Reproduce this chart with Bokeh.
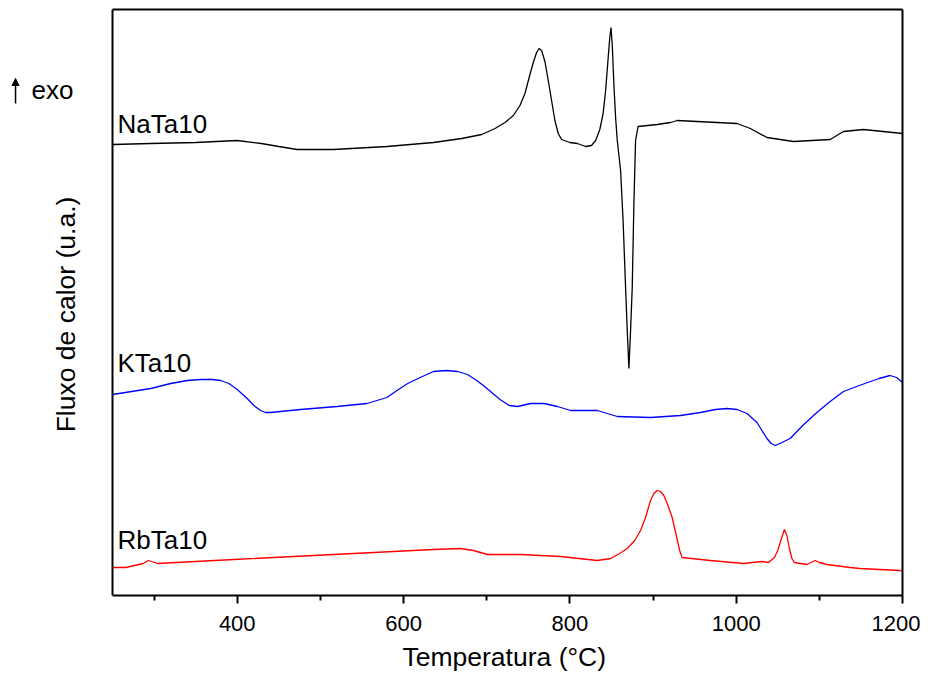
import math
from bokeh.plotting import figure
from bokeh.models import Range1d, FixedTicker, Label, Arrow, NormalHead, LinearAxis, Span, Title
from bokeh.embed import file_html
from bokeh.resources import INLINE

# ---- data (temperature in °C, heat flow in arbitrary units) ----
na_T = [250, 296, 350, 400, 429, 450, 472, 516, 580, 636, 670, 694, 710, 722, 732, 740,
        746, 751, 756, 760, 763, 766, 770, 774, 778, 782, 786, 790, 800, 809, 819, 826,
        831, 836, 840, 843, 846, 848, 849.5, 851, 853, 855, 857, 861, 864, 867, 869, 871,
        873, 875, 877, 879, 882, 905, 921, 929, 1001, 1017, 1037, 1069, 1113, 1129, 1153, 1200]
na_y = [451, 452, 453, 455, 452, 449, 446, 446, 449, 453, 457, 461, 467, 473, 480, 490,
        502, 518, 533, 543, 547, 545, 534, 515, 495, 475, 462, 456, 453, 452, 449, 450,
        455, 466, 482, 505, 537, 558, 568, 550, 510, 478, 455, 425, 375, 308, 265, 227,
        265, 308, 392, 455, 469, 471, 473, 475, 472, 467, 458, 454, 456, 464, 466, 462]

k_T = [250, 296, 320, 340, 356, 370, 380, 390, 400, 412, 420, 428, 434, 440, 476, 520,
       556, 580, 592, 605, 620, 636, 652, 665, 677, 688, 696, 706, 716, 727, 737, 753,
       769, 785, 801, 833, 857, 897, 933, 957, 975, 989, 1001, 1013, 1025, 1031, 1037, 1042,
       1047, 1055, 1065, 1080, 1097, 1113, 1129, 1145, 1158, 1172, 1185, 1193, 1200]
k_y = [201, 207, 212, 215, 216, 216, 215, 212, 206, 197, 190, 185, 183, 183, 186, 189,
       192, 198, 205, 212, 218, 224, 225, 224, 221, 215, 210, 203, 196, 190, 189, 192,
       192, 189, 185, 185, 179, 178, 180, 183, 186, 187, 186, 182, 173, 165, 157, 152,
       150, 153, 157, 170, 183, 194, 204, 209, 213, 217, 220, 218, 213]

rb_T = [250, 266, 287, 293, 297, 304, 396, 516, 636, 668, 684, 701, 741, 789, 833, 849,
        860, 869, 878, 885, 891, 897, 901, 905, 909, 913, 918, 923, 928, 932, 935, 969,
        1009, 1031, 1039, 1046, 1050, 1054, 1058, 1061, 1064, 1067, 1070, 1085, 1090, 1095,
        1100, 1109, 1137, 1149, 1197, 1200]
rb_y = [28, 28, 32, 35, 34, 32, 36, 41, 46, 47, 45, 41, 41, 39, 35, 37,
        42, 47, 55, 65, 78, 95, 102, 105, 104, 100, 90, 78, 60, 45, 38, 35,
        32, 34, 33, 38, 45, 56, 66, 60, 47, 37, 33, 31, 33, 35,
        33, 31, 28, 27, 25, 24]

series_names = ["NaTa10", "KTa10", "RbTa10"]
series_colors = ["black", "#0000ff", "#ff0000"]
label_y = [471.5, 232.5, 55.5]
major_ticks = [400, 600, 800, 1000, 1200]
minor_ticks = [300, 500, 700, 900, 1100]
T_MIN, T_MAX = 250, 1200

FONT = "Liberation Sans"

# frame spans from the canvas left edge so the margin texts can live inside it
FRAME_W, AXIS_PX = 902, 112
x_start = T_MIN - AXIS_PX * (T_MAX - T_MIN) / (FRAME_W - AXIS_PX)

p = figure(width=920, height=682, output_backend="svg", toolbar_location=None,
           x_range=Range1d(x_start, T_MAX), y_range=Range1d(0, 586),
           y_axis_location=None,
           min_border_left=0, min_border_right=18, min_border_top=9, min_border_bottom=87)
p.grid.visible = False
p.outline_line_color = None
p.background_fill_color = "white"
p.border_fill_color = "white"

for xs, ys, c in zip([na_T, k_T, rb_T], [na_y, k_y, rb_y], series_colors):
    p.line(xs, ys, line_color=c, line_width=1.3)

# bottom axis
xa = p.xaxis[0]
xa.bounds = (T_MIN, T_MAX)
xa.ticker = FixedTicker(ticks=major_ticks, minor_ticks=minor_ticks)
xa.axis_line_width = 2
xa.major_tick_out = 8
xa.major_tick_in = 0
xa.minor_tick_out = 5
xa.minor_tick_in = 0
xa.major_tick_line_width = 2
xa.minor_tick_line_width = 2
xa.major_label_text_font = FONT
xa.major_label_text_font_size = "22px"
xa.major_label_text_color = "black"
xa.major_label_standoff = 12

# x axis title, centred under the visible axis
p.add_layout(Title(text="Temperatura (°C)", align="left", offset=402, standoff=13,
                   text_font=FONT, text_font_size="26.5px", text_font_style="normal",
                   text_color="black"), "below")

# top and right frame lines
top = LinearAxis(ticker=FixedTicker(ticks=[]), bounds=(T_MIN, T_MAX), axis_line_width=2,
                 major_label_text_font_size="0px")
top.major_tick_line_color = None
top.minor_tick_line_color = None
p.add_layout(top, "above")
right = LinearAxis(ticker=FixedTicker(ticks=[]), axis_line_width=2,
                   major_label_text_font_size="0px")
right.major_tick_line_color = None
right.minor_tick_line_color = None
p.add_layout(right, "right")

# left axis line
p.add_layout(Span(location=T_MIN, dimension="height", line_color="black", line_width=2))

# y axis label
p.add_layout(Label(x=193.5, y=281, text="Fluxo de calor (u.a.)", angle=math.pi / 2,
                   text_font=FONT, text_font_size="26.5px", text_color="black",
                   text_align="center", text_baseline="middle"))

# series labels
for name, yb in zip(series_names, label_y):
    p.add_layout(Label(x=256, y=yb, text=name, text_font=FONT, text_font_size="26px",
                       text_color="black", text_baseline="alphabetic"))

# exo indicator
p.add_layout(Label(x=152.6, y=505.5, text="exo", text_font=FONT, text_font_size="26px",
                   text_color="black", text_baseline="alphabetic"))
p.add_layout(Arrow(x_start=133.4, y_start=492, x_end=133.4, y_end=517,
                   line_color="black", line_width=1.5,
                   end=NormalHead(size=7, fill_color="black", line_color="black")))

open("out.html", "w").write(file_html(p, INLINE))
